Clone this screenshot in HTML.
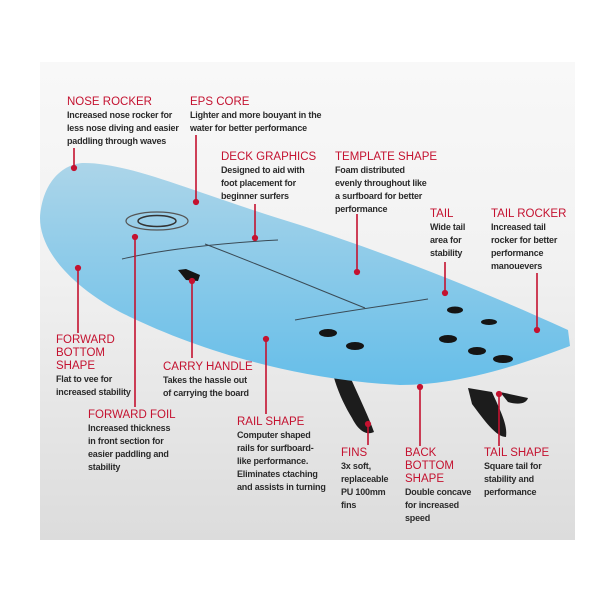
<!DOCTYPE html>
<html><head><meta charset="utf-8"><style>
body{margin:0;width:600px;height:600px;background:#fff;position:relative;overflow:hidden;font-family:"Liberation Sans",sans-serif}
.p{position:absolute;left:40px;top:62px;width:535px;height:478px;background:linear-gradient(#f8f8f8,#f2f2f2 40%,#dcdcdc)}
svg{position:absolute;left:0;top:0}
.l{position:absolute;font-size:9px;line-height:13px;color:#2b2b2b;font-weight:bold;letter-spacing:-0.2px}
.l b{display:block;color:#c41230;font-size:11.5px;font-weight:normal;line-height:13px;letter-spacing:0}
</style></head><body>
<div class="p"></div>
<svg width="600" height="600">
<defs><linearGradient id="g" x1="0" y1="0" x2="0" y2="1"><stop offset="0" stop-color="#acd5e9"/><stop offset="1" stop-color="#66bee9"/></linearGradient></defs>
<path d="M332,370 L348,372 C358,395 368,415 374,432 C366,436 358,430 352,418 C344,405 336,388 332,370Z" fill="#1c1c1c"/>
<path d="M468,388 L492,392 C500,410 508,425 506,437 C496,437 484,420 472,404Z" fill="#1c1c1c"/>
<path d="M500,392 L528,398 C526,404 518,405 508,402Z" fill="#1c1c1c"/>
<path d="M40,218 C42,185 60,165 82,163 C130,162 200,195 300,225 C400,258 480,290 568,330 L570,346 C520,365 460,385 400,385 C300,380 200,352 120,312 C70,285 40,250 40,218Z" fill="url(#g)"/>
<g stroke="#3a4a55" stroke-width="1" fill="none">
<path d="M122,259 C160,250 220,243 278,240"/>
<path d="M205,244 C260,265 320,290 365,308"/>
<path d="M295,320 C340,312 390,305 428,299"/>
</g>
<path d="M178,270 L186,269 L200,275 L198,281 L186,280Z" fill="#151515"/>
<ellipse cx="157" cy="221" rx="31" ry="9" fill="none" stroke="#555" stroke-width="1.2"/>
<ellipse cx="157" cy="221" rx="19" ry="5.5" fill="none" stroke="#333" stroke-width="1.5"/>
<g fill="#151515">
<ellipse cx="328" cy="333" rx="9" ry="4"/><ellipse cx="355" cy="346" rx="9" ry="4"/>
<ellipse cx="455" cy="310" rx="8" ry="3.5"/><ellipse cx="489" cy="322" rx="8" ry="3"/>
<ellipse cx="448" cy="339" rx="9" ry="4"/><ellipse cx="477" cy="351" rx="9" ry="4"/>
<ellipse cx="503" cy="359" rx="10" ry="4"/>
</g>
<g stroke="#c41230" stroke-width="1.6" fill="#c41230">
<line x1="74" y1="148" x2="74" y2="168"/><circle cx="74" cy="168" r="2.3"/>
<line x1="196" y1="135" x2="196" y2="202"/><circle cx="196" cy="202" r="2.3"/>
<line x1="255" y1="204" x2="255" y2="238"/><circle cx="255" cy="238" r="2.3"/>
<line x1="357" y1="214" x2="357" y2="272"/><circle cx="357" cy="272" r="2.3"/>
<line x1="445" y1="262" x2="445" y2="293"/><circle cx="445" cy="293" r="2.3"/>
<line x1="537" y1="273" x2="537" y2="330"/><circle cx="537" cy="330" r="2.3"/>
<line x1="78" y1="268" x2="78" y2="333"/><circle cx="78" cy="268" r="2.3"/>
<line x1="135" y1="237" x2="135" y2="407"/><circle cx="135" cy="237" r="2.3"/>
<line x1="192" y1="281" x2="192" y2="358"/><circle cx="192" cy="281" r="2.3"/>
<line x1="266" y1="339" x2="266" y2="414"/><circle cx="266" cy="339" r="2.3"/>
<line x1="368" y1="424" x2="368" y2="445"/><circle cx="368" cy="424" r="2.3"/>
<line x1="420" y1="387" x2="420" y2="446"/><circle cx="420" cy="387" r="2.3"/>
<line x1="499" y1="394" x2="499" y2="446"/><circle cx="499" cy="394" r="2.3"/>
</g>
</svg>
<div class="l" style="left:67px;top:96px"><b>NOSE ROCKER</b>Increased nose rocker for<br>less nose diving and easier<br>paddling through waves</div>
<div class="l" style="left:190px;top:96px"><b>EPS CORE</b>Lighter and more bouyant in the<br>water for better performance</div>
<div class="l" style="left:221px;top:151px"><b>DECK GRAPHICS</b>Designed to aid with<br>foot placement for<br>beginner surfers</div>
<div class="l" style="left:335px;top:151px"><b>TEMPLATE SHAPE</b>Foam distributed<br>evenly throughout like<br>a surfboard for better<br>performance</div>
<div class="l" style="left:430px;top:208px"><b>TAIL</b>Wide tail<br>area for<br>stability</div>
<div class="l" style="left:491px;top:208px"><b>TAIL ROCKER</b>Increased tail<br>rocker for better<br>performance<br>manouevers</div>
<div class="l" style="left:56px;top:334px"><b>FORWARD<br>BOTTOM<br>SHAPE</b>Flat to vee for<br>increased stability</div>
<div class="l" style="left:163px;top:361px"><b>CARRY HANDLE</b>Takes the hassle out<br>of carrying the board</div>
<div class="l" style="left:88px;top:409px"><b>FORWARD FOIL</b>Increased thickness<br>in front section for<br>easier paddling and<br>stability</div>
<div class="l" style="left:237px;top:416px"><b>RAIL SHAPE</b>Computer shaped<br>rails for surfboard-<br>like performance.<br>Eliminates ctaching<br>and assists in turning</div>
<div class="l" style="left:341px;top:447px"><b>FINS</b>3x soft,<br>replaceable<br>PU 100mm<br>fins</div>
<div class="l" style="left:405px;top:447px"><b>BACK<br>BOTTOM<br>SHAPE</b>Double concave<br>for increased<br>speed</div>
<div class="l" style="left:484px;top:447px"><b>TAIL SHAPE</b>Square tail for<br>stability and<br>performance</div>
</body></html>
